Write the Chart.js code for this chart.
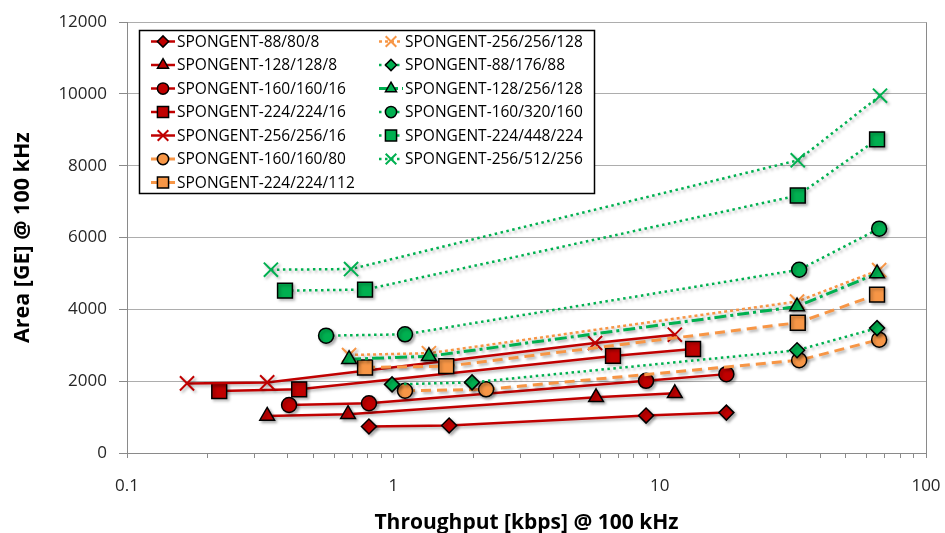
<!DOCTYPE html>
<html>
<head>
<meta charset="utf-8">
<script src="https://cdn.jsdelivr.net/npm/chart.js@4.4.1/dist/chart.umd.min.js"></script>
<style>
  html, body { margin: 0; padding: 0; background: #fff; }
  #wrap { width: 945px; height: 533px; }
</style>
</head>
<body>
<div id="wrap"><canvas id="c" width="945" height="533"></canvas></div>
<script>
/* SPONGENT area vs throughput */

var seriesNames = [
  'SPONGENT-88/80/8', 'SPONGENT-128/128/8', 'SPONGENT-160/160/16', 'SPONGENT-224/224/16',
  'SPONGENT-256/256/16', 'SPONGENT-160/160/80', 'SPONGENT-224/224/112', 'SPONGENT-256/256/128',
  'SPONGENT-88/176/88', 'SPONGENT-128/256/128', 'SPONGENT-160/320/160', 'SPONGENT-224/448/224',
  'SPONGENT-256/512/256'
];

// throughput [kbps] and area [GE], one pair per series
var x_88_80_8    = [0.81, 1.62, 8.89, 17.8];   var y_88_80_8    = [737, 765, 1042, 1125];
var x_128_128_8  = [0.336, 0.676, 5.77, 11.4]; var y_128_128_8  = [1033, 1080, 1551, 1662];
var x_160_160_16 = [0.406, 0.81, 8.89, 17.8];  var y_160_160_16 = [1338, 1385, 2011, 2197];
var x_224_224_16 = [0.222, 0.443, 6.68, 13.35]; var y_224_224_16 = [1726, 1773, 2704, 2897];
var x_256_256_16 = [0.168, 0.336, 5.72, 11.4]; var y_256_256_16 = [1939, 1967, 3064, 3296];
var x_160_160_80 = [1.106, 2.23, 33.4, 66.7];  var y_160_160_80 = [1734, 1773, 2584, 3158];
var x_224_224_112 = [0.783, 1.58, 33.0, 65.5]; var y_224_224_112 = [2382, 2418, 3629, 4413];
var x_256_256_128 = [0.682, 1.36, 32.8, 66.7]; var y_256_256_128 = [2730, 2780, 4219, 5097];
var x_88_176_88  = [0.989, 1.975, 32.8, 65.5]; var y_88_176_88  = [1911, 1967, 2861, 3479];
var x_128_256_128 = [0.682, 1.36, 32.8, 65.5]; var y_128_256_128 = [2612, 2695, 4080, 5003];
var x_160_320_160 = [0.559, 1.106, 33.4, 66.7]; var y_160_320_160 = [3269, 3305, 5105, 6249];
var x_224_448_224 = [0.392, 0.783, 33.0, 65.5]; var y_224_448_224 = [4523, 4551, 7174, 8734];
var x_256_512_256 = [0.347, 0.694, 33.0, 67.2]; var y_256_512_256 = [5105, 5125, 8152, 9953];

var xSeries = [x_88_80_8, x_128_128_8, x_160_160_16, x_224_224_16, x_256_256_16, x_160_160_80,
  x_224_224_112, x_256_256_128, x_88_176_88, x_128_256_128, x_160_320_160, x_224_448_224, x_256_512_256];
var ySeries = [y_88_80_8, y_128_128_8, y_160_160_16, y_224_224_16, y_256_256_16, y_160_160_80,
  y_224_224_112, y_256_256_128, y_88_176_88, y_128_256_128, y_160_320_160, y_224_448_224, y_256_512_256];

var xTickLabels = ['0.1', '1', '10', '100'];
var yTicks = [0, 2000, 4000, 6000, 8000, 10000, 12000];

var RED = '#C00000', ORG = '#F79646', GRN = '#00B050';
var SOLID = [], DASH = [10, 6], DOT = [2.5, 3.5], ODOT = [3, 3], DASHDOT = [12, 4, 3, 4];

// style per series: [line colour, dash, width, point style, radius]
var styles = [
  [RED, SOLID, 2.5, 'rectRot', 7.5],
  [RED, SOLID, 2.5, 'triangle', 8.5],
  [RED, SOLID, 2.5, 'circle', 7.5],
  [RED, SOLID, 2.5, 'rect', 10.5],
  [RED, SOLID, 2.5, 'crossRot', 10],
  [ORG, DASH, 3, 'circle', 7.5],
  [ORG, DASH, 3, 'rect', 10.5],
  [ORG, ODOT, 2.5, 'crossRot', 10],
  [GRN, DOT, 2.5, 'rectRot', 7.5],
  [GRN, DASHDOT, 3, 'triangle', 8.5],
  [GRN, DOT, 2.5, 'circle', 7.5],
  [GRN, DOT, 2.5, 'rect', 10.5],
  [GRN, DOT, 2.5, 'crossRot', 10]
];

var FONT = "'Open Sans', 'DejaVu Sans', sans-serif";

var datasets = seriesNames.map(function (nm, i) {
  var st = styles[i], isX = st[3] === 'crossRot';
  return {
    label: nm,
    data: xSeries[i].map(function (x, j) { return { x: x, y: ySeries[i][j] }; }),
    borderColor: st[0], borderDash: st[1], borderWidth: st[2],
    pointStyle: st[3], pointRadius: st[4], pointHoverRadius: st[4],
    pointBackgroundColor: st[0],
    pointBorderColor: isX ? st[0] : '#000',
    pointBorderWidth: isX ? 2 : 1.5,
    tension: 0, fill: false, clip: false,
    order: -i
  };
});

var xMinor = [];
[0.1, 1, 10].forEach(function (d) { for (var k = 1; k < 10; k++) xMinor.push(+(k * d).toFixed(3)); });
xMinor.push(100);

/* soft drop shadow on series, as in the original */
var shadowPlugin = {
  id: 'shadow',
  beforeDatasetDraw: function (chart) {
    var c = chart.ctx; c.save();
    c.shadowColor = 'rgba(0,0,0,0.3)'; c.shadowBlur = 3; c.shadowOffsetX = 2; c.shadowOffsetY = 2;
  },
  afterDatasetDraw: function (chart) { chart.ctx.restore(); }
};

/* right plot border + boxed two-column legend */
var legendPlugin = {
  id: 'boxLegend',
  beforeDatasetsDraw: function (chart) {
    var c = chart.ctx, a = chart.chartArea;
    c.save(); c.strokeStyle = '#8A8A8A'; c.lineWidth = 1;
    c.beginPath(); c.moveTo(Math.round(a.right) + 0.5, a.top); c.lineTo(Math.round(a.right) + 0.5, a.bottom); c.stroke();
    c.restore();
  },
  afterDatasetsDraw: function (chart) {
    var c = chart.ctx;
    c.save();
    c.fillStyle = '#fff'; c.fillRect(139, 30, 456, 164);
    c.strokeStyle = '#000'; c.lineWidth = 1.5; c.strokeRect(139.5, 30.5, 455, 163);
    c.font = '15.5px ' + FONT; c.textBaseline = 'middle'; c.textAlign = 'left';
    chart.data.datasets.forEach(function (ds, i) {
      var col = i < 7 ? 0 : 1, row = i < 7 ? i : i - 7;
      var lx = col ? 379 : 151, ly = 41.5 + row * 23.5;
      c.save();
      c.strokeStyle = ds.borderColor; c.lineWidth = ds.borderWidth; c.setLineDash(ds.borderDash);
      c.beginPath(); c.moveTo(lx, ly); c.lineTo(lx + 24, ly); c.stroke();
      c.setLineDash([]);
      c.fillStyle = ds.pointBackgroundColor; c.strokeStyle = ds.pointBorderColor;
      c.lineWidth = ds.pointBorderWidth;
      Chart.helpers.drawPoint(c, { pointStyle: ds.pointStyle, rotation: 0,
        radius: ds.pointRadius * 0.75, borderWidth: ds.pointBorderWidth }, lx + 12, ly);
      c.restore();
      c.fillStyle = '#000';
      c.fillText(ds.label, lx + 26, ly + 1);
    });
    c.restore();
  }
};

new Chart(document.getElementById('c'), {
  type: 'line',
  data: { datasets: datasets },
  plugins: [shadowPlugin, legendPlugin],
  options: {
    responsive: false, animation: false,
    layout: { padding: { top: 20, right: 19, left: 0, bottom: 0 } },
    plugins: { legend: { display: false }, tooltip: { enabled: false } },
    scales: {
      x: {
        type: 'logarithmic', min: 0.1, max: 100,
        afterFit: function (s) { s.height = 80; s.paddingRight = 0; s.paddingLeft = 0; },
        afterBuildTicks: function (s) { s.ticks = xMinor.map(function (v) { return { value: v }; }); },
        ticks: {
          autoSkip: false, maxRotation: 0, minRotation: 0, padding: 18, color: '#262626',
          font: { family: FONT, size: 17 },
          callback: function (v) {
            var k = [0.1, 1, 10, 100].indexOf(+(+v).toFixed(3));
            return k >= 0 ? xTickLabels[k] : '';
          }
        },
        grid: { drawOnChartArea: false, drawTicks: true, tickLength: 5, color: '#8A8A8A' },
        border: { color: '#8A8A8A' },
        title: { display: true, text: 'Throughput [kbps] @ 100 kHz', color: '#000',
          font: { family: FONT, size: 21, weight: 'bold', lineHeight: 0.95 }, padding: { top: 0, bottom: 0 } }
      },
      y: {
        min: 0, max: 12000,
        afterFit: function (s) { s.width = 127; },
        afterBuildTicks: function (s) { s.ticks = yTicks.map(function (v) { return { value: v }; }); },
        ticks: { padding: 12, color: '#262626', font: { family: FONT, size: 17 },
          callback: function (v) { return String(v); } },
        grid: { color: '#ADADAD', tickColor: '#8A8A8A', tickLength: 8 },
        border: { color: '#8A8A8A' },
        title: { display: true, text: 'Area [GE] @ 100 kHz', color: '#000',
          font: { family: FONT, size: 21.5, weight: 'bold' }, padding: { top: 10, bottom: 0 } }
      }
    }
  }
});
</script>
</body>
</html>
